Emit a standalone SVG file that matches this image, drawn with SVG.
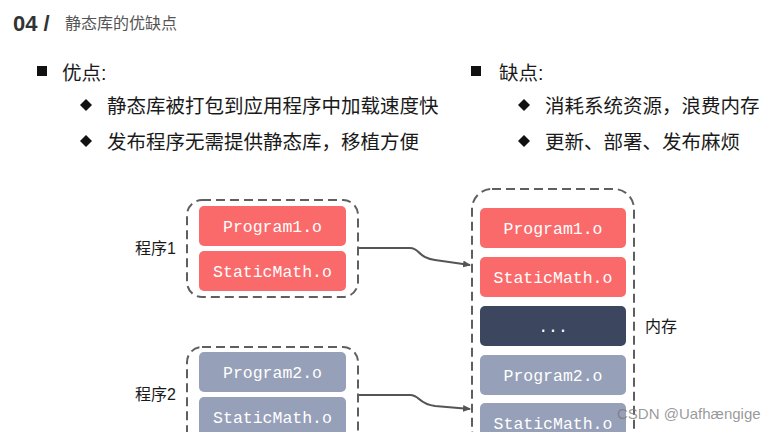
<svg xmlns="http://www.w3.org/2000/svg" width="776" height="432" viewBox="0 0 776 432">
<defs>
<style>
.cn{font-family:"Liberation Sans","Noto Sans CJK SC",sans-serif;fill:#1a1a1a}
.bul{font-size:19.5px}
.mono{font-family:"Liberation Mono","DejaVu Sans Mono",monospace;font-size:16.5px;fill:#ffffff;text-anchor:middle}
.grp{fill:none;stroke:#5f5f5f;stroke-width:2;stroke-dasharray:9 5}
.red{fill:#fb6a6a}
.gry{fill:#97a0b9}
.drk{fill:#3c475f}
.conn{fill:none;stroke:#555;stroke-width:2.2}
</style>
<marker id="ah" markerWidth="8" markerHeight="8" refX="7" refY="4" orient="auto" markerUnits="userSpaceOnUse">
<path d="M0,0.5 L8,4 L0,7.5 Z" fill="#555"/>
</marker>
</defs>
<rect width="776" height="432" fill="#ffffff"/>
<g id="title">
<text x="13" y="31" font-family="Liberation Sans,sans-serif" font-weight="bold" font-size="22" fill="#333">04 /</text>
<text x="65" y="29" class="cn" font-size="16" fill="#555" style="fill:#555">静态库的优缺点</text>
</g>
<g id="pros">
<rect x="37" y="66" width="10" height="10" fill="#111"/>
<text x="62" y="80" class="cn bul">优点:</text>
<path d="M86,99 L92,105 L86,111 L80,105 Z" fill="#111"/>
<text x="107" y="113" class="cn bul">静态库被打包到应用程序中加载速度快</text>
<path d="M86,135 L92,141 L86,147 L80,141 Z" fill="#111"/>
<text x="107" y="149" class="cn bul">发布程序无需提供静态库，移植方便</text>
</g>
<g id="cons">
<rect x="471" y="66" width="10" height="10" fill="#111"/>
<text x="499" y="80" class="cn bul">缺点:</text>
<path d="M524,99 L530,105 L524,111 L518,105 Z" fill="#111"/>
<text x="545" y="113" class="cn bul">消耗系统资源，浪费内存</text>
<path d="M524,135 L530,141 L524,147 L518,141 Z" fill="#111"/>
<text x="545" y="149" class="cn bul">更新、部署、发布麻烦</text>
</g>
<g id="prog1">
<rect class="grp" x="187" y="200" width="171" height="97" rx="15"/>
<rect class="red" x="199" y="206" width="147" height="40" rx="5"/>
<text class="mono" x="272.5" y="232">Program1.o</text>
<rect class="red" x="199" y="251" width="147" height="40" rx="5"/>
<text class="mono" x="272.5" y="277">StaticMath.o</text>
<text x="135" y="254" class="cn" font-size="16">程序1</text>
</g>
<g id="prog2">
<rect class="grp" x="187" y="347" width="171" height="100" rx="15"/>
<rect class="gry" x="199" y="352" width="147" height="40" rx="5"/>
<text class="mono" x="272.5" y="378">Program2.o</text>
<rect class="gry" x="199" y="397" width="147" height="40" rx="5"/>
<text class="mono" x="272.5" y="423">StaticMath.o</text>
<text x="135" y="400" class="cn" font-size="16">程序2</text>
</g>
<g id="memory">
<rect class="grp" x="472" y="189" width="162" height="260" rx="20"/>
<rect class="red" x="480" y="208" width="146" height="40" rx="5"/>
<text class="mono" x="553" y="234">Program1.o</text>
<rect class="red" x="480" y="257" width="146" height="40" rx="5"/>
<text class="mono" x="553" y="283">StaticMath.o</text>
<rect class="drk" x="480" y="306" width="146" height="40" rx="5"/>
<text class="mono" x="553" y="332">...</text>
<rect class="gry" x="480" y="355" width="146" height="40" rx="5"/>
<text class="mono" x="553" y="381">Program2.o</text>
<rect class="gry" x="480" y="403" width="146" height="40" rx="5"/>
<text class="mono" x="553" y="429">StaticMath.o</text>
<text x="645" y="332" class="cn" font-size="16">内存</text>
</g>
<g id="connectors">
<path class="conn" d="M359,248 L410,248 C420,248 418,258 435,260 L470,265" marker-end="url(#ah)"/>
<path class="conn" d="M359,395 L410,395 C420,395 418,404 435,406 L470,409" marker-end="url(#ah)"/>
</g>
<text x="617" y="419" font-family="Liberation Sans,sans-serif" font-size="15" fill="#777" fill-opacity="0.75">CSDN @Uafhængige</text>
</svg>
